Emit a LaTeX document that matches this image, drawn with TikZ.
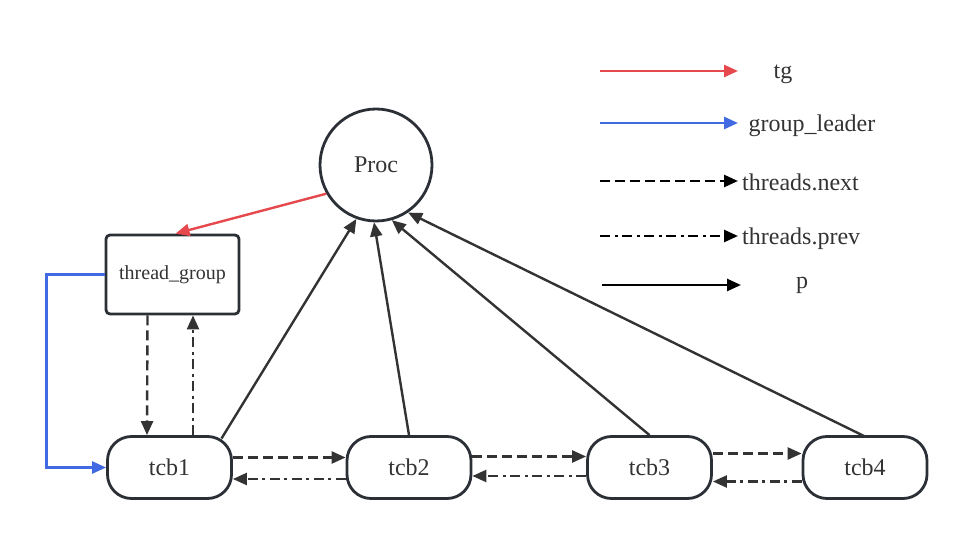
\documentclass[tikz,border=0pt]{standalone}
\usepackage{fontspec}
\setmainfont{Liberation Serif}
\usetikzlibrary{arrows.meta}
\definecolor{edge}{HTML}{2B2F36}
\definecolor{link}{HTML}{333333}
\definecolor{tgred}{HTML}{E5484D}
\definecolor{leaderblue}{HTML}{4169E1}
\begin{document}
\begin{tikzpicture}[x=1pt,y=-1pt,
  txt/.style={font=\fontsize{24}{28}\selectfont, text=link},
  tcbbox/.style={draw=edge, line width=2.8pt, rounded corners=24pt, minimum width=124pt, minimum height=62pt, inner sep=0pt, txt},
  tip/.style={-{Triangle[length=14pt,width=12pt]}},
  link/.style={draw=link, line width=2.4pt, tip},
  nextline/.style={link, dash pattern=on 10pt off 5pt},
  prevline/.style={link, dash pattern=on 10pt off 4.5pt on 3pt off 4.5pt},
  key/.style={line width=2.6pt, tip}
]
\useasboundingbox (0,0) rectangle (969,545);

% process and thread group
\node[circle, draw=edge, line width=2.8pt, minimum size=112pt, inner sep=0pt, txt] (proc) at (376,165) {Proc};
\node[draw=edge, line width=2.8pt, rounded corners=4pt, minimum width=133pt, minimum height=79pt, inner sep=0pt,
      font=\fontsize{20}{24}\selectfont, text=link] (tg) at (172.5,274.5) {thread\_group};

% threads
\node[tcbbox] (t1) at (169.5,467.5) {tcb1};
\node[tcbbox] (t2) at (409,467.5) {tcb2};
\node[tcbbox] (t3) at (649.5,467.5) {tcb3};
\node[tcbbox] (t4) at (865,467.5) {tcb4};

% tg and group_leader
\draw[link, draw=tgred] (proc.{-150.5}) -- ([xshift=3pt]tg.north);
\draw[link, draw=leaderblue] (tg.west) -- ++(-58,0) |- (t1.west);

% thread_group <-> tcb1
\draw[nextline] ([xshift=-25pt]tg.south) -- ([xshift=-22.5pt]t1.north);
\draw[prevline] ([xshift=23.5pt]t1.north) -- ([xshift=20.5pt]tg.south);

% p pointers
\draw[link] ([xshift=52pt,yshift=29pt]t1.center) -- (proc.{-110});
\draw[link] (t2.north) -- (proc.{-92});
\draw[link] (t3.north) -- (proc.{-74});
\draw[link] ([yshift=31pt]t4.center) -- (proc.{-56});

% threads.next / threads.prev
\draw[nextline] ([yshift=10pt]t1.east) -- ([yshift=10pt]t2.west);
\draw[prevline] ([yshift=-11.5pt]t2.west) -- ([yshift=-11.5pt]t1.east);
\draw[nextline] ([yshift=11pt]t2.east) -- ([yshift=11pt]t3.west);
\draw[prevline] ([yshift=-8.5pt]t3.west) -- ([yshift=-8.5pt]t2.east);
\draw[nextline] ([yshift=14pt]t3.east) -- ([yshift=14pt]t4.west);
\draw[prevline] ([yshift=-14pt]t4.west) -- ([yshift=-14pt]t3.east);

% legend
\coordinate (k1a) at (600,71);  \coordinate (k1b) at (738,71);
\coordinate (k2a) at (600,123); \coordinate (k2b) at (738,123);
\coordinate (k3a) at (600,181); \coordinate (k3b) at (738,181);
\coordinate (k4a) at (600,236); \coordinate (k4b) at (738,236);
\coordinate (k5a) at (602,285); \coordinate (k5b) at (741,285);
\draw[key, draw=tgred] (k1a) -- (k1b);
\draw[key, draw=leaderblue] (k2a) -- (k2b);
\draw[key, draw=black, dash pattern=on 10pt off 5pt] (k3a) -- (k3b);
\draw[key, draw=black, dash pattern=on 10pt off 4.5pt on 3pt off 4.5pt] (k4a) -- (k4b);
\draw[key, draw=black] (k5a) -- (k5b);
\node[txt] (l1) at (783,74) {tg};
\node[txt] (l2) at (812,126) {group\_leader};
\node[txt, anchor=west, inner sep=0pt] (l3) at (742,182) {threads.next};
\node[txt, anchor=west, inner sep=0pt] (l4) at (742,239) {threads.prev};
\node[txt] (l5) at (802,285) {p};
\end{tikzpicture}
\end{document}
